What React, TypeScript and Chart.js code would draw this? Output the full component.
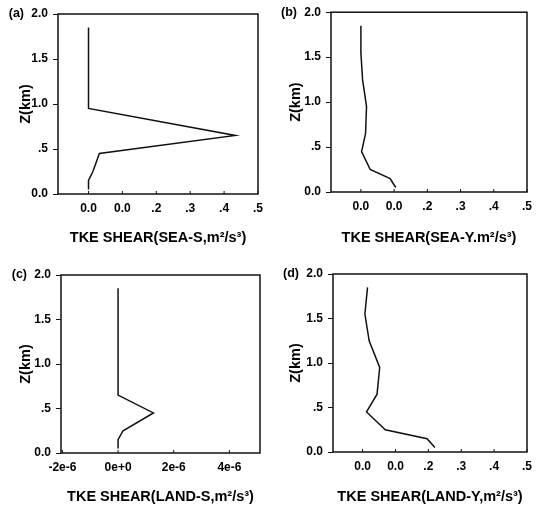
import React, { useEffect, useRef } from "react";
import { Chart, registerables } from "chart.js";

Chart.register(...registerables);

// Shared vertical levels (km)
const Z_LEVELS = [0.05, 0.15, 0.25, 0.45, 0.65, 0.95, 1.25, 1.55, 1.85];

// Series values (TKE shear production)
const SEA_S = [0.0, 0.0, 0.013, 0.032, 0.433, 0.0, 0.0, 0.0, 0.0];
const SEA_Y = [0.105, 0.088, 0.028, 0.002, 0.014, 0.017, 0.005, 0.0, 0.0];
const LAND_S = [0.0, 0.0, 0.18e-6, 1.27e-6, 0.0, 0.0, 0.0, 0.0, 0.0];
const LAND_Y = [0.22, 0.196, 0.069, 0.012, 0.044, 0.052, 0.02, 0.007, 0.015];

// Tick values and labels
const Y_TICKS = [0, 0.5, 1.0, 1.5, 2.0];
const Y_TICK_LABELS = ["0.0", ".5", "1.0", "1.5", "2.0"];
const SEA_X_TICKS = [0, 0.1, 0.2, 0.3, 0.4, 0.5];
const SEA_X_LABELS = ["0.0", "0.0", ".2", ".3", ".4", ".5"];
const LANDS_X_TICKS = [-2e-6, 0, 2e-6, 4e-6];
const LANDS_X_LABELS = ["-2e-6", "0e+0", "2e-6", "4e-6"];

const PANEL_LABELS = ["(a)", "(b)", "(c)", "(d)"];
const X_TITLES = [
  "TKE SHEAR(SEA-S,m\u00B2/s\u00B3)",
  "TKE SHEAR(SEA-Y.m\u00B2/s\u00B3)",
  "TKE SHEAR(LAND-S,m\u00B2/s\u00B3)",
  "TKE SHEAR(LAND-Y,m\u00B2/s\u00B3)",
];
const Y_TITLE = "Z(km)";

const FONT = "'Liberation Sans', Arial, sans-serif";

type PanelCfg = {
  label: string;
  title: string;
  values: number[];
  xMin: number;
  xMax: number;
  xTicks: number[];
  xLabels: string[];
  left: number;
  top: number;
  width: number;
  height: number;
  axisW: number;
  axisH: number;
  padTop: number;
  padRight: number;
  yTitlePad: number;
};

const PANELS: PanelCfg[] = [
  { label: PANEL_LABELS[0], title: X_TITLES[0], values: SEA_S, xMin: -0.09, xMax: 0.5, xTicks: SEA_X_TICKS, xLabels: SEA_X_LABELS,
    left: 0, top: 0, width: 270, height: 250, axisW: 58, axisH: 56, padTop: 14, padRight: 12, yTitlePad: 17 },
  { label: PANEL_LABELS[1], title: X_TITLES[1], values: SEA_Y, xMin: -0.09, xMax: 0.5, xTicks: SEA_X_TICKS, xLabels: SEA_X_LABELS,
    left: 270, top: 0, width: 269, height: 250, axisW: 61, axisH: 58, padTop: 12, padRight: 9, yTitlePad: 17 },
  { label: PANEL_LABELS[2], title: X_TITLES[2], values: LAND_S, xMin: -2.05e-6, xMax: 5.1e-6, xTicks: LANDS_X_TICKS, xLabels: LANDS_X_LABELS,
    left: 0, top: 250, width: 270, height: 259, axisW: 61, axisH: 56, padTop: 25, padRight: 10, yTitlePad: 17 },
  { label: PANEL_LABELS[3], title: X_TITLES[3], values: LAND_Y, xMin: -0.09, xMax: 0.5, xTicks: SEA_X_TICKS, xLabels: SEA_X_LABELS,
    left: 270, top: 250, width: 269, height: 259, axisW: 63, axisH: 57, padTop: 24, padRight: 6, yTitlePad: 17 },
];

const framePlugin = {
  id: "frame",
  afterDraw(chart: any, _args: any, opts: any) {
    const { ctx, chartArea } = chart;
    const { left, top, right, bottom } = chartArea;
    ctx.save();
    ctx.strokeStyle = "#111";
    ctx.lineWidth = 1.5;
    ctx.strokeRect(left, top, right - left, bottom - top);
    const xs = chart.scales.x;
    ctx.lineWidth = 1;
    xs.ticks.forEach((t: any) => {
      const px = xs.getPixelForValue(t.value);
      ctx.beginPath();
      ctx.moveTo(px, bottom);
      ctx.lineTo(px, bottom - 3);
      ctx.stroke();
    });
    ctx.fillStyle = "#000";
    ctx.font = `bold 12.5px ${FONT}`;
    ctx.textAlign = "right";
    ctx.textBaseline = "middle";
    ctx.fillText(opts.label, left - 34, top);
    ctx.restore();
  },
};

function Panel({ cfg }: { cfg: PanelCfg }) {
  const ref = useRef<HTMLCanvasElement>(null);
  useEffect(() => {
    const canvas = ref.current!;
    const data = Z_LEVELS.map((z, i) => ({ x: cfg.values[i], y: z }));
    const chart = new Chart(canvas, {
      type: "scatter",
      data: {
        datasets: [
          {
            data,
            showLine: true,
            borderColor: "#111",
            borderWidth: 1.5,
            pointRadius: 0,
            tension: 0,
          },
        ],
      },
      options: {
        responsive: false,
        animation: false,
        devicePixelRatio: 1,
        layout: { padding: { left: 0, top: cfg.padTop, right: cfg.padRight, bottom: 0 } },
        plugins: {
          legend: { display: false },
          tooltip: { enabled: false },
          frame: { label: cfg.label },
        } as any,
        scales: {
          x: {
            type: "linear",
            min: cfg.xMin,
            max: cfg.xMax,
            afterBuildTicks: (s: any) => {
              s.ticks = cfg.xTicks.map((v) => ({ value: v }));
            },
            afterFit: (s: any) => {
              s.height = cfg.axisH;
            },
            border: { display: false },
            grid: { display: true, drawOnChartArea: false, drawTicks: false, color: "#111" },
            ticks: {
              autoSkip: false,
              maxRotation: 0,
              padding: 7,
              color: "#000",
              font: { family: FONT, size: 12, weight: "bold" },
              callback: (_v: any, i: number) => cfg.xLabels[i],
            },
            title: {
              display: true,
              text: cfg.title,
              color: "#000",
              font: { family: FONT, size: 14.5, weight: "bold" },
              padding: { top: 0, bottom: 3 },
            },
          },
          y: {
            type: "linear",
            min: 0,
            max: 2,
            afterBuildTicks: (s: any) => {
              s.ticks = Y_TICKS.map((v) => ({ value: v }));
            },
            afterFit: (s: any) => {
              s.width = cfg.axisW;
            },
            border: { display: false },
            grid: { display: true, drawOnChartArea: false, drawTicks: true, tickLength: 5, color: "#111" },
            ticks: {
              autoSkip: false,
              padding: 5,
              color: "#000",
              font: { family: FONT, size: 12, weight: "bold" },
              callback: (_v: any, i: number) => Y_TICK_LABELS[i],
            },
            title: {
              display: true,
              text: Y_TITLE,
              color: "#000",
              font: { family: FONT, size: 14.5, weight: "bold" },
              padding: { top: cfg.yTitlePad, bottom: 0 },
            },
          },
        },
      },
      plugins: [framePlugin],
    });
    return () => chart.destroy();
  }, [cfg]);
  return (
    <canvas
      ref={ref}
      width={cfg.width}
      height={cfg.height}
      style={{ position: "absolute", left: cfg.left, top: cfg.top, width: cfg.width, height: cfg.height }}
    />
  );
}

export default function App() {
  return (
    <div style={{ position: "absolute", left: 0, top: 0, width: 539, height: 509, background: "#fff" }}>
      {PANELS.map((p) => (
        <Panel key={p.label} cfg={p} />
      ))}
    </div>
  );
}
